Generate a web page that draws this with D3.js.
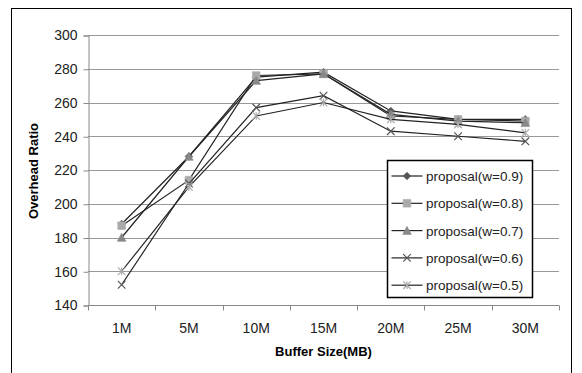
<!DOCTYPE html>
<html>
<head>
<meta charset="utf-8">
<script src="https://cdn.jsdelivr.net/npm/d3@7"></script>
<style>
  body { margin: 0; background: #fff; }
  text { font-family: "Liberation Sans", Arial, sans-serif; }
</style>
</head>
<body>
<div class="chart"></div>
<script>
// 資料
const categories = ['1M', '5M', '10M', '15M', '20M', '25M', '30M'];
const yTicks = [140, 160, 180, 200, 220, 240, 260, 280, 300];
const seriesNames = ['proposal(w=0.9)', 'proposal(w=0.8)', 'proposal(w=0.7)', 'proposal(w=0.6)', 'proposal(w=0.5)'];
const w09 = [188, 228, 275, 278, 255, 250, 250];
const w08 = [187, 214, 276, 277, 252, 250, 249];
const w07 = [180, 228, 273, 277, 253, 249, 248];
const w06 = [152, 212, 257, 264, 243, 240, 237];
const w05 = [160, 210, 252, 260, 250, 247, 242];

const allSeries = [w09, w08, w07, w06, w05];
const markers = ['diamond', 'square', 'triangle', 'x', 'star'];
const markerColor = ['#555', '#aaa', '#888', '#555', '#aaa'];

const W = 582, H = 373;
const plot = {left: 88, right: 559, top: 35, bottom: 305};

const svg = d3.select('.chart').append('svg')
              .attr('width', W)
              .attr('height', H);

// 外框
svg.append('rect').attr('x', 11.5).attr('y', 8.5)
   .attr('width', 560).attr('height', 380)
   .attr('fill', 'none').attr('stroke', '#000').attr('stroke-width', 1);

const x = d3.scaleBand().domain(categories).range([plot.left, plot.right]).padding(0);
const y = d3.scaleLinear().domain([140, 300]).range([plot.bottom, plot.top]);
const cx = d => x(d) + x.bandwidth() / 2;

// 格線
svg.append('g').selectAll('line')
   .data(yTicks.slice(1)).enter().append('line')
   .attr('x1', plot.left).attr('x2', plot.right)
   .attr('y1', d => Math.round(y(d)) + 0.5).attr('y2', d => Math.round(y(d)) + 0.5)
   .attr('stroke', '#999').attr('stroke-width', 1);

// y 軸
const yAxis = svg.append('g')
   .attr('transform', `translate(${plot.left + 0.5},0.5)`)
   .call(d3.axisLeft(y).tickValues(yTicks).tickSize(5).tickPadding(6));
yAxis.select('.domain').attr('stroke', '#888');
yAxis.selectAll('.tick line').attr('stroke', '#888');
yAxis.selectAll('text').attr('font-size', 14).attr('fill', '#222');

// x 軸（刻度在類別邊界）
const xAxis = svg.append('g')
   .attr('transform', `translate(0,${Math.round(plot.bottom) + 0.5})`);
xAxis.append('line').attr('x1', plot.left).attr('x2', plot.right)
     .attr('stroke', '#888');
const bounds = categories.map(c => x(c)).concat([plot.right]);
xAxis.selectAll('.tk').data(bounds).enter().append('line')
     .attr('x1', d => Math.round(d) + 0.5).attr('x2', d => Math.round(d) + 0.5)
     .attr('y1', 0).attr('y2', 5).attr('stroke', '#888');
xAxis.selectAll('text').data(categories).enter().append('text')
     .attr('x', d => cx(d)).attr('y', 27)
     .attr('text-anchor', 'middle').attr('font-size', 14).attr('fill', '#222')
     .text(d => d);

// 軸標題
svg.append('text').text('Buffer Size(MB)')
   .attr('x', (plot.left + plot.right) / 2).attr('y', 356)
   .attr('text-anchor', 'middle').attr('font-size', 13).attr('font-weight', 'bold');
svg.append('text').text('Overhead  Ratio')
   .attr('transform', 'translate(38,171) rotate(-90)')
   .attr('text-anchor', 'middle').attr('font-size', 13).attr('font-weight', 'bold');

// 標記
function markerPath(type) {
  const r = 3.8;
  if (type === 'diamond') return `M0,${-r}L${r},0L0,${r}L${-r},0Z`;
  if (type === 'square') return `M${-r},${-r}H${r}V${r}H${-r}Z`;
  if (type === 'triangle') return `M0,${-r-0.5}L${r + 0.5},${r}L${-r - 0.5},${r}Z`;
  if (type === 'x') return `M${-r},${-r}L${r},${r}M${-r},${r}L${r},${-r}`;
  return `M${-r},${-r}L${r},${r}M${-r},${r}L${r},${-r}M0,${-r}L0,${r}`;
}
function drawMarker(g, type, color) {
  const p = g.append('path').attr('d', markerPath(type));
  if (type === 'x' || type === 'star') p.attr('fill', 'none').attr('stroke', color).attr('stroke-width', 1.2);
  else p.attr('fill', color).attr('stroke', color).attr('stroke-width', 0.6);
}

const line = d3.line().x((d, i) => cx(categories[i])).y(d => y(d));

allSeries.forEach((vals, si) => {
  const g = svg.append('g');
  g.append('path').datum(vals).attr('d', line)
   .attr('fill', 'none').attr('stroke', '#222').attr('stroke-width', 1.2);
  g.selectAll('.m').data(vals).enter().append('g')
   .attr('transform', (d, i) => `translate(${cx(categories[i])},${y(d)})`)
   .each(function() { drawMarker(d3.select(this), markers[si], markerColor[si]); });
});

// 圖例
const lg = svg.append('g').attr('transform', 'translate(387.5,160.5)');
lg.append('rect').attr('width', 145).attr('height', 137)
  .attr('fill', '#fff').attr('stroke', '#000').attr('stroke-width', 1.5);
seriesNames.forEach((name, i) => {
  const yy = 15.5 + i * 27.3;
  lg.append('line').attr('x1', 4).attr('x2', 35).attr('y1', yy).attr('y2', yy)
    .attr('stroke', '#222').attr('stroke-width', 1.2);
  const mg = lg.append('g').attr('transform', `translate(19.5,${yy})`);
  drawMarker(mg, markers[i], markerColor[i]);
  lg.append('text').text(name).attr('x', 38.5).attr('y', yy + 5)
    .attr('font-size', 13.5).attr('fill', '#222');
});
</script>
</body>
</html>
